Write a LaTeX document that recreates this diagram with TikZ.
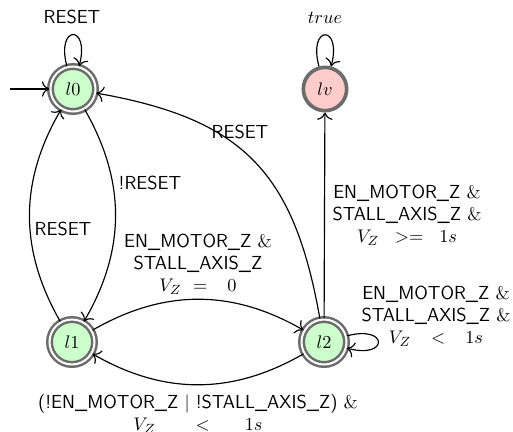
\documentclass[tikz,border=0pt]{standalone}
\usepackage{amsmath}
\usetikzlibrary{arrows.meta}
\definecolor{ringgray}{RGB}{108,108,108}
\definecolor{okgreen}{RGB}{204,255,204}
\definecolor{badpink}{RGB}{255,204,204}
\newcommand\gsp[1]{\hspace{#1}}
\begin{document}
\begin{tikzpicture}[x=0.6pt,y=-0.6pt,
  >={To[scale=1.4]},
  every node/.style={font=\fontsize{11.3}{13.2}\selectfont\sffamily},
  loc/.style={circle, draw=ringgray, line width=1.5pt, double=white,
    double distance=1.2pt, fill=okgreen, minimum size=27pt, inner sep=0pt},
  violation/.style={circle, draw=ringgray, line width=2.2pt, fill=badpink,
    minimum size=26pt, inner sep=0pt},
  trans/.style={->, line width=0.7pt},
  selfloop/.style={min distance=26pt},
  guard/.style={align=center, inner sep=0pt}]
\useasboundingbox (0,0) rectangle (513,431);

% locations
\node[loc] (l0) at (73,89) {$l0$};
\node[violation] (lv) at (325,89) {$lv$};
\node[loc] (l1) at (72,342) {$l1$};
\node[loc] (l2) at (324,342) {$l2$};
\coordinate (init) at (10,89);

% transitions
\draw[trans] (init) -- (l0);
\draw[trans] (l0) to[loop above, selfloop] (l0);
\draw[trans] (lv) to[loop above, selfloop] (lv);
\draw[trans] (l0) to[bend left=30] (l1);
\draw[trans] (l1) to[bend left=30] (l0);
\draw[trans] (l1) to[bend left=30] (l2);
\draw[trans] (l2) to[bend left=30] (l1);
\draw[trans] (l2) to[out=100, in=-10, looseness=1.2] (l0);
\draw[trans] (l2) -- (lv);
\draw[trans] (l2) to[loop right, selfloop] (l2);

% guards
\node[guard] (g00) at (72,17) {RESET};
\node[guard] (gvv) at (325,18) {$true$};
\node[guard] (g01) at (150,183) {!RESET};
\node[guard] (g10) at (63,229) {RESET};
\node[guard] (g20) at (240,132) {RESET};
\node[guard] (g12) at (198,264) {EN\_MOTOR\_Z $\&$\\ STALL\_AXIS\_Z\\ $V_Z \gsp{4pt} = \gsp{9pt} 0$};
\node[guard] (g2v) at (407,215) {EN\_MOTOR\_Z $\&$\\ STALL\_AXIS\_Z $\&$\\ $V_Z \gsp{6.5pt} >= \gsp{6.5pt} 1s$};
\node[guard] (g22) at (436,316) {EN\_MOTOR\_Z $\&$\\ STALL\_AXIS\_Z $\&$\\ $V_Z \gsp{9pt} < \gsp{9pt} 1s$};
\node[guard] (g21) at (198,414) {(!EN\_MOTOR\_Z $|$ !STALL\_AXIS\_Z) $\&$\\ $V_Z \gsp{21pt} < \gsp{18pt} 1s$};
\end{tikzpicture}
\end{document}
